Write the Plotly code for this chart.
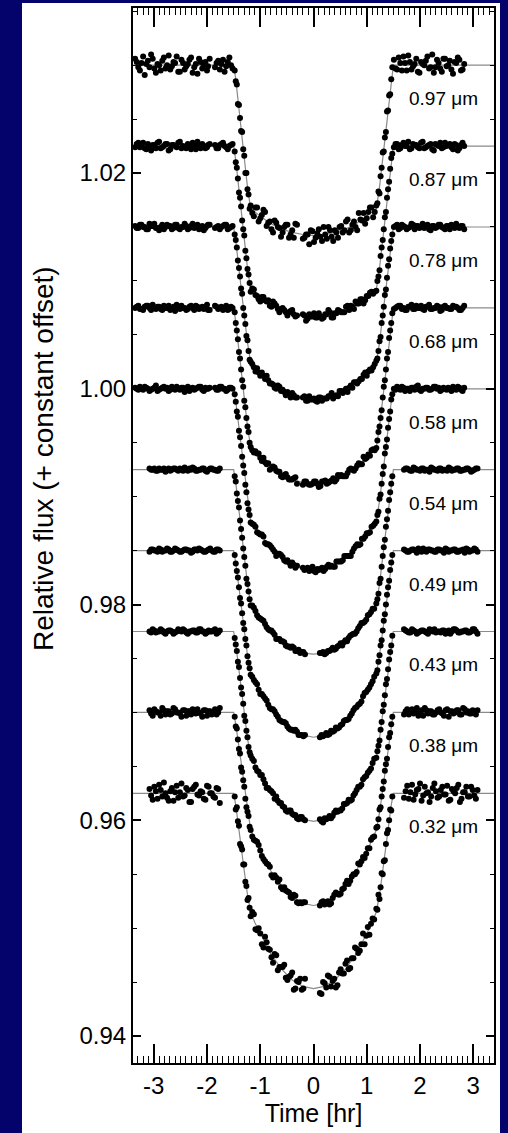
import plotly.graph_objects as go

# ---------------- data ----------------
WAVELENGTH_LABELS = ["0.97 \u03bcm", "0.87 \u03bcm", "0.78 \u03bcm", "0.68 \u03bcm", "0.58 \u03bcm",
                     "0.54 \u03bcm", "0.49 \u03bcm", "0.43 \u03bcm", "0.38 \u03bcm", "0.32 \u03bcm"]
OFFSETS = [0.030, 0.0225, 0.015, 0.0075, 0.0, -0.0075, -0.015, -0.0225, -0.030, -0.0375]

X_TICKS = [-3, -2, -1, 0, 1, 2, 3]
X_TICKTEXT = ["-3", "-2", "-1", "0", "1", "2", "3"]
Y_TICKS = [0.94, 0.96, 0.98, 1.00, 1.02]

# observation times (hr) for the red set (0.58-0.97 um)
T_UPPER = [-3.32, -3.26, -3.20, -3.14, -3.08, -3.02, -2.96, -2.90, -2.84, -2.78, -2.72, -2.66, -2.60, -2.54,
           -2.48, -2.42, -2.36, -2.30, -2.24, -2.18, -2.12, -2.06, -2.00, -1.95,
           -1.82, -1.76, -1.70, -1.64, -1.58, -1.52,
           -1.48, -1.46, -1.44, -1.42, -1.40, -1.38, -1.36, -1.34, -1.32, -1.30, -1.28, -1.26, -1.24, -1.22, -1.20, -1.18,
           -1.12, -1.06, -1.00, -0.94, -0.88, -0.82, -0.76, -0.70, -0.64, -0.58, -0.52, -0.46, -0.40, -0.34,
           -0.20, -0.14, -0.08, -0.02, 0.04, 0.10, 0.16, 0.22, 0.28, 0.34, 0.40, 0.46, 0.52, 0.58, 0.64, 0.70,
           0.76, 0.82, 0.88, 0.94, 1.00, 1.06, 1.12,
           1.18, 1.20, 1.22, 1.24, 1.26, 1.28, 1.30, 1.32, 1.34, 1.36, 1.38, 1.40, 1.42, 1.44, 1.46, 1.48,
           1.54, 1.60, 1.66, 1.72, 1.78, 1.84, 1.90, 1.96, 2.02, 2.08, 2.14, 2.20, 2.26, 2.32, 2.38, 2.44,
           2.50, 2.56, 2.62, 2.68, 2.74, 2.80]
# interleaved exposures of the red set: out of transit, then in transit
T_UPPER_OOT = [-3.35, -3.29, -3.23, -3.17, -3.11, -3.05, -2.99, -2.93, -2.87, -2.81, -2.75, -2.69, -2.63, -2.57,
               -2.51, -2.45, -2.39, -2.33, -2.27, -2.21, -2.15, -2.09, -2.03, -1.98,
               -1.85, -1.79, -1.73, -1.67, -1.61, -1.55,
               1.51, 1.57, 1.63, 1.69, 1.75, 1.81, 1.87, 1.93, 1.99, 2.05, 2.11, 2.17, 2.23, 2.29, 2.35, 2.41,
               2.47, 2.53, 2.59, 2.65, 2.71, 2.77, 2.83]
T_UPPER_IN = [-1.15, -1.09, -1.03, -0.97, -0.91, -0.85, -0.79, -0.73, -0.67, -0.61, -0.55, -0.49, -0.43, -0.37,
              -0.31, -0.17, -0.11, -0.05, 0.01, 0.07, 0.13, 0.19, 0.25, 0.31, 0.37, 0.43, 0.49, 0.55, 0.61,
              0.67, 0.73, 0.79, 0.85, 0.91, 0.97, 1.03, 1.09, 1.15]

# observation times (hr) for the blue set (0.32-0.54 um)
T_LOWER = [-3.08, -3.02, -2.96, -2.90, -2.84, -2.78, -2.72, -2.66, -2.60, -2.54, -2.48, -2.42, -2.36, -2.30,
           -2.24, -2.18, -2.12, -2.06, -2.00, -1.94, -1.88, -1.82, -1.76,
           -1.48, -1.46, -1.44, -1.42, -1.40, -1.38, -1.36, -1.34, -1.32, -1.30, -1.28, -1.26, -1.24, -1.22, -1.20, -1.18,
           -1.12, -1.06, -1.00, -0.94, -0.88, -0.82, -0.76, -0.70, -0.64, -0.58, -0.52, -0.46, -0.40, -0.34,
           -0.28, -0.22, -0.16,
           0.12, 0.18, 0.24, 0.30, 0.36, 0.42, 0.48, 0.54, 0.60, 0.66, 0.72, 0.78, 0.84, 0.90, 0.96, 1.02, 1.08, 1.14,
           1.18, 1.20, 1.22, 1.24, 1.26, 1.28, 1.30, 1.32, 1.34, 1.36, 1.38, 1.40, 1.42, 1.44, 1.46, 1.48,
           1.70, 1.76, 1.82, 1.88, 1.94, 2.00, 2.06, 2.12, 2.18, 2.24, 2.30, 2.36, 2.42, 2.48, 2.54, 2.60,
           2.66, 2.72, 2.78, 2.84, 2.90, 2.96, 3.02, 3.08]
# interleaved exposures of the blue set: out of transit, then in transit
T_LOWER_OOT = [-3.05, -2.99, -2.93, -2.87, -2.81, -2.75, -2.69, -2.63, -2.57, -2.51, -2.45, -2.39, -2.33, -2.27,
               -2.21, -2.15, -2.09, -2.03, -1.97, -1.91, -1.85, -1.79,
               1.73, 1.79, 1.85, 1.91, 1.97, 2.03, 2.09, 2.15, 2.21, 2.27, 2.33, 2.39, 2.45, 2.51, 2.57, 2.63,
               2.69, 2.75, 2.81, 2.87, 2.93, 2.99, 3.05]
T_LOWER_IN = [-1.15, -1.09, -1.03, -0.97, -0.91, -0.85, -0.79, -0.73, -0.67, -0.61, -0.55, -0.49, -0.43, -0.37,
              -0.31, -0.25, -0.19, 0.15, 0.21, 0.27, 0.33, 0.39, 0.45, 0.51, 0.57, 0.63, 0.69, 0.75, 0.81,
              0.87, 0.93, 0.99, 1.05, 1.11]

# relative flux of each light curve (before the constant offset)
F097 = [1.0003, .9995, 1.0008, 1.0001, .9998, 1.0006, .9993, 1.0, 1.0004, .9997, 1.0009, .9999, 1.0002, .9994,
        1.0005, .9996, 1.0001, 1.0007, .9998, .9992, 1.0003, 1.0, .9995, 1.0006,
        1.0002, .9996, 1.0005, .9999, 1.0007, .9997,
        .9995, .9985, .9982, .9964, .9963, .9951, .9939, .9938, .9922, .9916, .9900, .9900, .9885, .9880, .9867, .9870,
        .9860, .9868, .9858, .9866, .9851, .9855, .9845, .9854, .9849, .9845, .9852, .9840, .9847, .9853, .9839,
        .9843, .9834, .9846, .9840, .9848, .9837, .9843, .9850, .9841, .9847, .9840, .9851, .9847, .9857, .9847,
        .9855, .9847, .9857, .9863, .9858, .9868, .9859,
        .9870, .9872, .9883, .9881, .9897, .9905, .9919, .9920, .9933, .9938, .9957, .9958, .9972, .9973, .9987, .9998,
        .9997, 1.0007, .9995, 1.0002, 1.0009, .9996, 1.0001, .9994, 1.0003, 1.0, 1.0008, .9998, .9993, 1.0005,
        .9997, 1.0006, .9999, 1.0004, .9992, 1.0002, 1.0005, .9996]
F087 = [1.0002, .9999, 1.0003, .9997, 1.0, 1.0001, .9998, 1.0004, .9999, 1.0002, .9996, 1.0001, 1.0, 1.0003,
        .9998, .9999, 1.0002, .9997, 1.0001, 1.0004, .9998, 1.0, .9999, 1.0002,
        .9998, 1.0001, 1.0003, .9999, 1.0, 1.0002,
        .9995, .9985, .9980, .9970, .9957, .9952, .9944, .9931, .9923, .9917, .9903, .9896, .9886, .9881, .9873, .9865,
        .9867, .9861, .9856, .9860, .9856, .9852, .9856, .9852, .9846, .9850, .9846, .9846, .9848, .9842, .9844,
        .9838, .9844, .9842, .9841, .9845, .9840, .9844, .9848, .9841, .9845, .9848, .9846, .9846, .9852, .9852,
        .9849, .9854, .9858, .9854, .9861, .9864, .9863,
        .9866, .9875, .9879, .9885, .9898, .9906, .9913, .9923, .9934, .9939, .9952, .9960, .9967, .9979, .9989, .9993,
        1.0002, .9997, 1.0001, 1.0, 1.0004, .9998, 1.0001, .9999, 1.0003, .9998, 1.0, 1.0002, .9996, 1.0001,
        1.0003, .9999, 1.0, 1.0002, .9997, 1.0001, .9998, 1.0003]
F078 = [.9999, 1.0002, 1.0, .9998, 1.0003, 1.0001, .9999, .9997, 1.0002, 1.0, 1.0001, .9998, 1.0002, .9999,
        1.0, 1.0003, .9998, 1.0001, .9999, 1.0002, 1.0, .9997, 1.0001, 1.0002,
        1.0, .9998, 1.0001, 1.0002, .9999, 1.0001,
        .9993, .9988, .9981, .9969, .9962, .9954, .9943, .9938, .9925, .9918, .9910, .9899, .9895, .9885, .9877, .9875,
        .9870, .9869, .9862, .9862, .9862, .9855, .9854, .9850, .9852, .9849, .9844, .9845, .9846, .9842, .9842,
        .9839, .9843, .9840, .9839, .9842, .9839, .9841, .9843, .9846, .9843, .9843, .9848, .9848, .9847, .9853,
        .9856, .9855, .9859, .9863, .9862, .9868, .9870,
        .9876, .9878, .9885, .9894, .9898, .9911, .9918, .9926, .9937, .9942, .9953, .9964, .9970, .9980, .9987, .9993,
        1.0001, .9998, 1.0002, 1.0, .9999, 1.0003, .9998, 1.0001, 1.0, .9999, 1.0002, .9997, 1.0001, 1.0,
        1.0002, .9999, 1.0001, .9998, 1.0, 1.0003, .9999, 1.0001]
F068 = [1.0001, .9999, .9998, 1.0002, 1.0, 1.0003, .9999, 1.0001, .9998, 1.0, 1.0002, .9999, .9997, 1.0001,
        1.0002, 1.0, .9999, 1.0002, .9998, 1.0001, 1.0, .9999, 1.0003, .9998,
        1.0001, 1.0, .9998, 1.0002, .9999, 1.0,
        .9996, .9986, .9979, .9971, .9959, .9953, .9943, .9933, .9927, .9914, .9908, .9898, .9890, .9885, .9875, .9871,
        .9866, .9865, .9861, .9861, .9855, .9850, .9853, .9849, .9848, .9843, .9846, .9841, .9841, .9843, .9836,
        .9839, .9836, .9837, .9839, .9834, .9839, .9840, .9838, .9840, .9839, .9845, .9845, .9844, .9847, .9851,
        .9849, .9854, .9855, .9862, .9861, .9863, .9869,
        .9870, .9877, .9885, .9890, .9898, .9905, .9917, .9927, .9933, .9943, .9953, .9959, .9972, .9979, .9986, .9995,
        1.0, 1.0002, .9999, .9998, 1.0001, 1.0003, .9999, 1.0, 1.0002, .9998, 1.0001, .9999, 1.0, 1.0002,
        .9997, 1.0001, 1.0, .9999, 1.0002, 1.0001, .9998, 1.0]
F058 = [1.0, 1.0002, .9999, 1.0001, .9998, 1.0, 1.0003, .9999, 1.0001, 1.0, .9998, 1.0002, .9999, 1.0,
        1.0001, .9997, 1.0002, 1.0, .9999, 1.0001, 1.0002, .9998, 1.0, 1.0001,
        .9999, 1.0002, 1.0, .9998, 1.0001, 1.0,
        .9995, .9988, .9979, .9974, .9961, .9955, .9947, .9937, .9929, .9922, .9911, .9904, .9894, .9888, .9883, .9876,
        .9874, .9867, .9865, .9863, .9856, .9855, .9851, .9845, .9847, .9844, .9840, .9839, .9839, .9834, .9834,
        .9833, .9831, .9835, .9830, .9832, .9834, .9833, .9837, .9836, .9835, .9840, .9840, .9845, .9845, .9845,
        .9852, .9856, .9856, .9861, .9866, .9867, .9873,
        .9877, .9883, .9886, .9898, .9902, .9912, .9921, .9928, .9940, .9946, .9953, .9964, .9972, .9979, .9990, .9995,
        .9999, 1.0001, 1.0002, .9998, 1.0, 1.0001, .9999, 1.0003, .9998, 1.0, 1.0001, .9999, 1.0002, 1.0,
        .9998, 1.0001, .9999, 1.0, 1.0002, .9999, 1.0001, .9998]
F054 = [1.0001, 1.0, .9999, 1.0001, 1.0, .9998, 1.0001, 1.0, 1.0001, .9999, 1.0, 1.0002, .9999, 1.0,
        1.0001, .9999, 1.0, 1.0001, .9998, 1.0001, 1.0, .9999, 1.0001,
        .9994, .9989, .9978, .9971, .9965, .9953, .9945, .9937, .9927, .9919, .9911, .9899, .9894, .9887, .9880, .9874,
        .9872, .9865, .9862, .9860, .9854, .9851, .9849, .9843, .9843, .9841, .9837, .9836, .9836, .9832, .9833,
        .9831, .9829,
        .9830, .9831, .9830, .9832, .9835, .9834, .9837, .9837, .9842, .9844, .9847, .9848, .9853, .9858, .9859,
        .9865, .9868, .9871,
        .9876, .9880, .9885, .9895, .9899, .9910, .9920, .9928, .9935, .9947, .9954, .9962, .9972, .9979, .9987, .9994,
        1.0, 1.0001, .9999, 1.0002, 1.0, .9999, 1.0001, 1.0, .9998, 1.0001, 1.0, 1.0001, .9999, 1.0,
        1.0002, .9999, 1.0, 1.0001, .9999, 1.0, 1.0001, .9998, 1.0, 1.0001]
F049 = [.9999, 1.0001, 1.0, 1.0002, .9999, 1.0, 1.0001, .9999, 1.0002, 1.0, .9999, 1.0001, 1.0, .9998,
        1.0001, 1.0, 1.0001, .9999, 1.0, 1.0002, .9999, 1.0001, 1.0,
        .9996, .9988, .9981, .9975, .9966, .9956, .9951, .9942, .9933, .9927, .9918, .9912, .9902, .9896, .9891, .9885,
        .9880, .9876, .9867, .9865, .9861, .9854, .9853, .9848, .9843, .9841, .9840, .9835, .9834, .9834, .9829,
        .9829, .9829,
        .9827, .9828, .9831, .9830, .9832, .9836, .9836, .9839, .9843, .9844, .9849, .9854, .9857, .9860, .9868,
        .9871, .9876, .9883,
        .9886, .9889, .9897, .9903, .9912, .9917, .9926, .9935, .9941, .9950, .9959, .9966, .9972, .9982, .9989, .9996,
        1.0001, .9999, 1.0, 1.0001, .9998, 1.0, 1.0002, .9999, 1.0001, 1.0, .9999, 1.0001, 1.0, 1.0002,
        .9999, 1.0, 1.0001, .9999, 1.0, .9998, 1.0001, 1.0, 1.0002, .9999]
F043 = [1.0, 1.0002, .9999, 1.0, 1.0001, .9998, 1.0001, 1.0, .9999, 1.0002, 1.0, 1.0001, .9998, 1.0,
        1.0001, .9999, 1.0002, 1.0, .9999, 1.0, 1.0001, .9998, 1.0001,
        .9994, .9988, .9982, .9972, .9967, .9957, .9948, .9942, .9933, .9922, .9917, .9908, .9902, .9893, .9888, .9885,
        .9880, .9871, .9867, .9863, .9855, .9853, .9850, .9847, .9841, .9838, .9834, .9834, .9831, .9830, .9826,
        .9828, .9825,
        .9826, .9823, .9826, .9829, .9829, .9834, .9834, .9836, .9840, .9844, .9844, .9850, .9856, .9858, .9865,
        .9869, .9873, .9882,
        .9883, .9889, .9894, .9899, .9909, .9916, .9926, .9932, .9941, .9951, .9956, .9965, .9974, .9981, .9987, .9996,
        1.0002, 1.0, .9999, 1.0001, .9998, 1.0, 1.0001, .9999, 1.0002, 1.0, .9999, 1.0, 1.0001, .9998,
        1.0001, 1.0, 1.0002, .9999, 1.0, 1.0001, .9999, 1.0, 1.0002, .9998]
F038 = [1.0002, .9997, 1.0001, 1.0, 1.0004, .9998, 1.0001, .9999, 1.0003, 1.0, .9996, 1.0002, 1.0001, .9998,
        1.0, 1.0003, .9999, 1.0002, .9997, 1.0001, 1.0, .9998, 1.0004,
        .9996, .9987, .9985, .9975, .9966, .9962, .9949, .9945, .9937, .9931, .9920, .9912, .9908, .9904, .9894, .9891,
        .9882, .9880, .9872, .9864, .9860, .9857, .9847, .9847, .9845, .9836, .9835, .9833, .9828, .9830, .9823,
        .9823, .9824,
        .9821, .9825, .9824, .9822, .9828, .9833, .9831, .9836, .9841, .9841, .9848, .9850, .9860, .9862, .9865,
        .9874, .9882, .9885,
        .9893, .9894, .9901, .9910, .9912, .9922, .9929, .9936, .9946, .9952, .9957, .9968, .9977, .9981, .9989, .9996,
        .9998, 1.0003, 1.0001, .9999, 1.0004, 1.0, .9997, 1.0002, 1.0001, .9998, 1.0, 1.0003, .9999, 1.0002,
        .9996, 1.0001, 1.0, 1.0002, .9998, 1.0003, 1.0001, .9999, 1.0, 1.0002]
F032 = [1.0004, .9994, 1.0002, 1.0008, .9997, 1.0, .9993, 1.0005, 1.0001, .9996, 1.0009, .9998, 1.0003, .9992,
        1.0006, .9999, 1.0002, .9995, 1.0007, 1.0, .9997, 1.0005, .9991,
        .9997, .9985, .9987, .9974, .9970, .9953, .9951, .9948, .9934, .9934, .9918, .9914, .9901, .9903, .9894, .9886,
        .9888, .9873, .9870, .9857, .9862, .9855, .9843, .9850, .9839, .9839, .9829, .9830, .9834, .9819, .9825,
        .9818, .9828,
        .9815, .9825, .9820, .9830, .9826, .9820, .9834, .9833, .9842, .9837, .9847, .9857, .9852, .9860, .9860,
        .9876, .9879, .9883,
        .9893, .9892, .9906, .9902, .9913, .9926, .9925, .9937, .9938, .9953, .9963, .9966, .9975, .9985, .9984, .9997,
        .9996, 1.0007, 1.0001, .9994, 1.0003, 1.0009, .9998, 1.0, .9992, 1.0005, 1.0002, .9997, 1.0006, .9999,
        .9993, 1.0004, 1.0, 1.0008, .9995, 1.0001, .9997, 1.0006, .9998, 1.0003]

# relative flux at the interleaved out-of-transit exposures
G097 = [1.0006, .9998, 1.0002, .9991, 1.0004, 1.0010, .9997, 1.0001, .9995, 1.0007, 1.0, .9996, 1.0003, 1.0008,
        .9994, 1.0002, .9999, 1.0005, .9993, 1.0001, 1.0006, .9997, 1.0003, .9999,
        .9998, 1.0004, 1.0001, .9994, 1.0003, 1.0,
        1.0005, .9996, 1.0002, 1.0008, .9995, 1.0003, .9999, 1.0006, .9993, 1.0001, 1.0004, .9997, 1.0010, .9998,
        1.0002, .9994, 1.0006, 1.0, .9996, 1.0003, 1.0007, .9995, 1.0001]
G087 = [.9999, 1.0003, 1.0, .9998, 1.0002, .9996, 1.0001, 1.0003, .9998, 1.0, 1.0002, .9997, 1.0001, .9999,
        1.0004, 1.0, .9998, 1.0001, 1.0003, .9997, 1.0, 1.0002, .9998, 1.0001,
        1.0001, .9998, 1.0002, 1.0, .9997, 1.0001,
        .9999, 1.0002, .9998, 1.0003, 1.0, .9997, 1.0002, 1.0001, .9998, 1.0004, .9999, 1.0001, .9997, 1.0002,
        1.0, .9998, 1.0003, 1.0001, .9999, 1.0002, .9996, 1.0001, 1.0]
G078 = [1.0001, .9999, 1.0002, 1.0, .9998, 1.0001, 1.0003, .9999, 1.0, .9998, 1.0002, 1.0001, .9999, 1.0002,
        .9998, 1.0, 1.0001, .9999, 1.0003, 1.0, .9998, 1.0001, .9999, 1.0002,
        .9999, 1.0001, 1.0, 1.0002, .9998, 1.0,
        1.0, 1.0002, .9999, 1.0001, .9998, 1.0, 1.0002, 1.0001, .9999, 1.0003, 1.0, .9998, 1.0001, .9999,
        1.0002, 1.0, .9998, 1.0001, 1.0002, .9999, 1.0, 1.0001, .9998]
G068 = [1.0, 1.0002, .9999, 1.0001, 1.0002, .9998, 1.0, 1.0001, .9999, 1.0002, 1.0, .9998, 1.0001, 1.0003,
        .9999, 1.0, .9998, 1.0001, 1.0, 1.0002, .9999, 1.0001, 1.0, .9998,
        1.0002, .9999, 1.0001, 1.0, .9998, 1.0001,
        .9999, 1.0001, 1.0002, 1.0, .9998, 1.0001, .9999, 1.0002, 1.0, .9999, 1.0001, 1.0003, .9999, 1.0,
        1.0001, .9998, 1.0002, 1.0, .9999, 1.0001, 1.0, .9998, 1.0002]
G058 = [1.0001, .9999, 1.0, 1.0002, 1.0, .9999, 1.0001, .9998, 1.0, 1.0002, 1.0001, .9999, 1.0, 1.0002,
        .9999, 1.0001, 1.0, .9998, 1.0001, 1.0, 1.0002, .9999, 1.0001, 1.0,
        1.0001, .9999, 1.0002, 1.0, .9999, 1.0001,
        1.0, 1.0002, .9999, 1.0001, 1.0, .9998, 1.0001, 1.0002, .9999, 1.0, 1.0001, .9999, 1.0, 1.0002,
        1.0001, .9999, 1.0, 1.0001, .9998, 1.0, 1.0002, .9999, 1.0001]
G054 = [1.0, 1.0001, .9999, 1.0, 1.0001, 1.0, .9999, 1.0001, 1.0, 1.0001, .9999, 1.0, 1.0001, 1.0002,
        .9999, 1.0, 1.0001, .9999, 1.0, 1.0001, 1.0, .9999,
        1.0001, 1.0, .9999, 1.0001, 1.0, 1.0001, .9999, 1.0, 1.0002, 1.0, .9999, 1.0001, 1.0, .9999,
        1.0001, 1.0, 1.0001, .9999, 1.0, 1.0001, 1.0, .9999, 1.0001]
G049 = [1.0001, 1.0, .9999, 1.0001, 1.0, 1.0002, .9999, 1.0, 1.0001, .9999, 1.0, 1.0001, 1.0, .9999,
        1.0001, 1.0002, 1.0, .9999, 1.0001, 1.0, .9999, 1.0001,
        1.0, .9999, 1.0001, 1.0, 1.0002, .9999, 1.0, 1.0001, 1.0, .9999, 1.0001, 1.0, .9998, 1.0001,
        1.0, 1.0001, .9999, 1.0, 1.0001, 1.0002, .9999, 1.0, 1.0001]
G043 = [.9999, 1.0001, 1.0, 1.0002, .9999, 1.0, 1.0001, .9998, 1.0, 1.0001, 1.0002, .9999, 1.0, 1.0001,
        .9999, 1.0002, 1.0, .9998, 1.0001, 1.0, 1.0002, .9999,
        1.0001, .9999, 1.0002, 1.0, .9999, 1.0001, 1.0, .9998, 1.0001, 1.0002, 1.0, .9999, 1.0001, 1.0,
        .9998, 1.0002, 1.0001, .9999, 1.0, 1.0001, .9999, 1.0002, 1.0]
G038 = [.9999, 1.0003, 1.0, .9997, 1.0002, 1.0001, .9998, 1.0004, 1.0, .9999, 1.0002, .9997, 1.0001, 1.0003,
        .9999, 1.0, .9996, 1.0002, 1.0001, .9998, 1.0003, 1.0,
        1.0001, .9998, 1.0003, 1.0, .9997, 1.0002, 1.0004, .9999, 1.0001, .9998, 1.0002, 1.0, .9997, 1.0003,
        1.0001, .9999, 1.0002, .9998, 1.0004, 1.0, .9999, 1.0002, .9998]
G032 = [.9998, 1.0006, .9995, 1.0003, 1.0010, .9996, 1.0002, .9993, 1.0007, 1.0001, .9997, 1.0005, .9992, 1.0004,
        1.0008, .9998, 1.0001, .9994, 1.0006, 1.0, .9996, 1.0004,
        1.0002, .9995, 1.0008, .9999, 1.0004, .9993, 1.0006, 1.0001, .9997, 1.0009, .9996, 1.0003, .9999, 1.0007,
        .9994, 1.0002, 1.0005, .9992, 1.0001, 1.0006, .9997, 1.0003, .9995]

# relative flux at the interleaved in-transit exposures
H097 = [.9863, .9868, .9855, .9861, .9864, .9854, .9848, .9856, .9850, .9841, .9850, .9852, .9843, .9840,
        .9852, .9840, .9843, .9847, .9836, .9844, .9841, .9850, .9839, .9847, .9837, .9845, .9850, .9845,
        .9855, .9845, .9852, .9850, .9863, .9856, .9853, .9864, .9868, .9864]
H087 = [.9868, .9862, .9858, .9860, .9857, .9857, .9851, .9854, .9849, .9849, .9848, .9843, .9847, .9844,
        .9843, .9843, .9840, .9842, .9845, .9841, .9842, .9841, .9844, .9846, .9841, .9845, .9847, .9846,
        .9851, .9848, .9851, .9856, .9854, .9858, .9857, .9861, .9865, .9865]
H078 = [.9873, .9866, .9865, .9865, .9859, .9858, .9855, .9851, .9853, .9848, .9847, .9847, .9842, .9844,
        .9842, .9843, .9839, .9840, .9841, .9838, .9842, .9841, .9841, .9843, .9841, .9844, .9848, .9846,
        .9850, .9851, .9851, .9856, .9857, .9859, .9865, .9866, .9867, .9873]
H068 = [.9868, .9867, .9865, .9858, .9857, .9856, .9851, .9852, .9848, .9844, .9845, .9843, .9841, .9842,
        .9837, .9839, .9837, .9836, .9839, .9837, .9835, .9839, .9837, .9839, .9842, .9841, .9844, .9844,
        .9844, .9850, .9850, .9851, .9856, .9855, .9860, .9864, .9868, .9868]
H058 = [.9875, .9872, .9866, .9865, .9857, .9856, .9853, .9849, .9847, .9846, .9841, .9841, .9836, .9837,
        .9836, .9832, .9834, .9832, .9831, .9833, .9833, .9831, .9835, .9835, .9835, .9840, .9840, .9841,
        .9845, .9845, .9849, .9854, .9855, .9861, .9863, .9866, .9872, .9875]
H054 = [.9874, .9869, .9863, .9861, .9857, .9852, .9851, .9847, .9843, .9841, .9840, .9836, .9835, .9835,
        .9832, .9830, .9831, .9830, .9829, .9832, .9833, .9833, .9836, .9839, .9840, .9841, .9846, .9848,
        .9850, .9855, .9858, .9861, .9866, .9871]
H049 = [.9883, .9878, .9871, .9867, .9863, .9857, .9853, .9851, .9846, .9842, .9841, .9837, .9834, .9833,
        .9832, .9829, .9828, .9829, .9829, .9829, .9833, .9833, .9835, .9838, .9842, .9843, .9847, .9852,
        .9855, .9858, .9865, .9869, .9873, .9879]
H043 = [.9882, .9874, .9870, .9867, .9859, .9855, .9852, .9845, .9843, .9841, .9837, .9833, .9834, .9830,
        .9827, .9828, .9826, .9824, .9827, .9827, .9827, .9832, .9833, .9834, .9840, .9841, .9843, .9848,
        .9853, .9856, .9863, .9866, .9871, .9878]
H038 = [.9885, .9881, .9877, .9867, .9862, .9859, .9849, .9849, .9843, .9838, .9838, .9834, .9829, .9831,
        .9824, .9824, .9824, .9824, .9822, .9825, .9823, .9831, .9832, .9832, .9837, .9844, .9844, .9850,
        .9852, .9859, .9866, .9869, .9874, .9884]
H032 = [.9890, .9874, .9875, .9860, .9867, .9856, .9848, .9851, .9836, .9839, .9841, .9827, .9831, .9818,
        .9826, .9828, .9819, .9814, .9824, .9831, .9821, .9828, .9822, .9837, .9833, .9845, .9838, .9847,
        .9856, .9854, .9870, .9868, .9869, .9884]

# fitted transit model for each light curve
T_MODEL = [-3.4, -1.5, -1.46, -1.42, -1.36, -1.30, -1.24, -1.18, -1.1, -1.0, -0.8, -0.6, -0.4, -0.2, 0.0,
           0.2, 0.4, 0.6, 0.8, 1.0, 1.1, 1.18, 1.24, 1.30, 1.36, 1.42, 1.46, 1.5, 3.4]
M097 = [1, 1, .9987, .9970, .9942, .9914, .9887, .9867, .9864, .9860, .9853, .9848, .9845, .9843, .9842,
        .9843, .9845, .9848, .9853, .9860, .9864, .9867, .9887, .9914, .9942, .9970, .9987, 1, 1]
M087 = [1, 1, .9987, .9970, .9942, .9914, .9887, .9867, .9864, .9860, .9853, .9848, .9845, .9843, .9842,
        .9843, .9845, .9848, .9853, .9860, .9864, .9867, .9887, .9914, .9942, .9970, .9987, 1, 1]
M078 = [1, 1, .9987, .9971, .9944, .9918, .9893, .9874, .9869, .9864, .9855, .9849, .9844, .9841, .9840,
        .9841, .9844, .9849, .9855, .9864, .9869, .9874, .9893, .9918, .9944, .9971, .9987, 1, 1]
M068 = [1, 1, .9987, .9970, .9943, .9916, .9890, .9871, .9867, .9861, .9853, .9846, .9841, .9838, .9837,
        .9838, .9841, .9846, .9853, .9861, .9867, .9871, .9890, .9916, .9943, .9970, .9987, 1, 1]
M058 = [1, 1, .9988, .9972, .9946, .9920, .9896, .9877, .9872, .9865, .9853, .9844, .9837, .9833, .9832,
        .9833, .9837, .9844, .9853, .9865, .9872, .9877, .9896, .9920, .9946, .9972, .9988, 1, 1]
M054 = [1, 1, .9988, .9971, .9945, .9919, .9894, .9875, .9869, .9862, .9850, .9841, .9834, .9830, .9829,
        .9830, .9834, .9841, .9850, .9862, .9869, .9875, .9894, .9919, .9945, .9971, .9988, 1, 1]
M049 = [1, 1, .9989, .9974, .9950, .9926, .9903, .9886, .9878, .9869, .9854, .9842, .9834, .9829, .9827,
        .9829, .9834, .9842, .9854, .9869, .9878, .9886, .9903, .9926, .9950, .9974, .9989, 1, 1]
M043 = [1, 1, .9988, .9973, .9949, .9925, .9901, .9884, .9876, .9867, .9852, .9840, .9831, .9826, .9824,
        .9826, .9831, .9840, .9852, .9867, .9876, .9884, .9901, .9925, .9949, .9973, .9988, 1, 1]
M038 = [1, 1, .9989, .9975, .9952, .9929, .9907, .9891, .9882, .9871, .9853, .9839, .9829, .9823, .9821,
        .9823, .9829, .9839, .9853, .9871, .9882, .9891, .9907, .9929, .9952, .9975, .9989, 1, 1]
M032 = [1, 1, .9989, .9975, .9951, .9928, .9906, .9890, .9880, .9870, .9851, .9837, .9827, .9821, .9819,
        .9821, .9827, .9837, .9851, .9870, .9880, .9890, .9906, .9928, .9951, .9975, .9989, 1, 1]

FLUXES = [F097, F087, F078, F068, F058, F054, F049, F043, F038, F032]
OOT_FLUXES = [G097, G087, G078, G068, G058, G054, G049, G043, G038, G032]
IN_FLUXES = [H097, H087, H078, H068, H058, H054, H049, H043, H038, H032]
MODELS = [M097, M087, M078, M068, M058, M054, M049, M043, M038, M032]
TIMES = [T_UPPER] * 5 + [T_LOWER] * 5
OOT_TIMES = [T_UPPER_OOT] * 5 + [T_LOWER_OOT] * 5
IN_TIMES = [T_UPPER_IN] * 5 + [T_LOWER_IN] * 5

# ---------------- styling ----------------
NAVY = "#03036b"
FONT = "Liberation Sans, Arial, Helvetica, sans-serif"
LABEL_X = 2.44          # hr, where the wavelength labels sit
LABEL_GAP = 0.0031      # label sits this far below its baseline

fig = go.Figure()

for lab, m, off in zip(WAVELENGTH_LABELS, MODELS, OFFSETS):
    fig.add_trace(go.Scatter(
        x=T_MODEL, y=[v + off for v in m], mode="lines",
        line=dict(color="#8a8a8a", width=1.2), name=lab + " model",
        hoverinfo="skip", showlegend=False))

for i, lab in enumerate(WAVELENGTH_LABELS):
    pts = (list(zip(TIMES[i], FLUXES[i])) + list(zip(OOT_TIMES[i], OOT_FLUXES[i]))
           + list(zip(IN_TIMES[i], IN_FLUXES[i])))
    pts.sort()
    fig.add_trace(go.Scatter(
        x=[p[0] for p in pts], y=[p[1] + OFFSETS[i] for p in pts], mode="markers",
        marker=dict(color="black", size=6, line=dict(width=0)),
        name=lab, showlegend=False))

for lab, off in zip(WAVELENGTH_LABELS, OFFSETS):
    fig.add_annotation(x=LABEL_X, y=1 + off - LABEL_GAP, text=lab, showarrow=False,
                       xref="x", yref="y", font=dict(family=FONT, size=19, color="black"))

# y-axis title (sits a little above the middle of the axis, as in the original)
fig.add_annotation(text="Relative flux (+ constant offset)", textangle=-90, showarrow=False,
                   xref="paper", yref="paper", x=(44 - 133) / 361, y=(1063 - 459) / 1055,
                   xanchor="center", yanchor="middle",
                   font=dict(family=FONT, size=28, color="black"))

# white panel on the navy slide background
fig.add_shape(type="rect", xref="paper", yref="paper",
              x0=(22 - 133) / 361, x1=(500 - 133) / 361,
              y0=(1063 - 1140) / 1055, y1=1 + (8 - 3) / 1055,
              fillcolor="white", line=dict(width=0), layer="below")

fig.update_layout(
    width=508, height=1133,
    margin=dict(l=133, r=14, t=8, b=70),
    paper_bgcolor=NAVY, plot_bgcolor="white",
    font=dict(family=FONT, color="black"),
    showlegend=False,
)

fig.update_xaxes(
    range=[-3.39, 3.39], tickmode="array", tickvals=X_TICKS, ticktext=X_TICKTEXT,
    ticks="inside", ticklen=19, tickwidth=1.5, tickcolor="black",
    minor=dict(tickmode="linear", tick0=0, dtick=0.1, ticks="inside", ticklen=7,
               tickwidth=1, tickcolor="black"),
    showline=True, linecolor="black", linewidth=2, mirror="ticks",
    showgrid=False, zeroline=False, automargin=False,
    tickfont=dict(family=FONT, size=24, color="black"),
    title=dict(text="Time [hr]", font=dict(family=FONT, size=25, color="black"), standoff=0),
)
fig.update_yaxes(
    range=[0.9375, 1.0353], tickmode="array", tickvals=Y_TICKS, tickformat=".2f",
    ticks="inside", ticklen=8, tickwidth=1.5, tickcolor="black",
    minor=dict(tickmode="linear", tick0=0, dtick=0.005, ticks="inside", ticklen=4,
               tickwidth=1, tickcolor="black"),
    showline=True, linecolor="black", linewidth=2, mirror="ticks",
    showgrid=False, zeroline=False, automargin=False,
    tickfont=dict(family=FONT, size=24, color="black"),
)

fig.write_html("out.html", config={"displayModeBar": False},
               post_script="document.body.style.margin='0';")
